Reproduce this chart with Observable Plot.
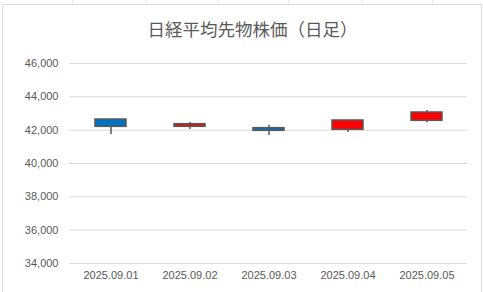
<!DOCTYPE html>
<html>
<head>
<meta charset="utf-8">
<script src="https://cdn.jsdelivr.net/npm/d3@7"></script>
<script src="https://cdn.jsdelivr.net/npm/@observablehq/plot@0.6"></script>
<style>
  html, body { margin: 0; padding: 0; background: #fff; }
  #wrap { position: relative; width: 483px; height: 292px; overflow: hidden; background: #fff; }
  #sheet { position: absolute; left: 0; top: 0; width: 483px; height: 292px; }
  #chartbox { position: absolute; left: 2px; top: 4px; width: 478px; height: 300px;
    border-left: 1px solid #d9d9d9; border-top: 1px solid #d9d9d9; border-right: 1px solid #d9d9d9; background: #fff; }
  #title { position: absolute; left: 0; top: 17px; width: 505px; text-align: center;
    font-family: "Noto Sans CJK JP", sans-serif; font-size: 17.5px; color: #595959; line-height: 24px; }
  #plot { position: absolute; left: 0; top: 0; }
</style>
</head>
<body>
<div id="wrap">
  <svg id="sheet" width="483" height="292"></svg>
  <div id="chartbox"></div>
  <div id="plot"></div>
  <div id="title">日経平均先物株価（日足）</div>
</div>
<script>
// Data
const dates = ["2025.09.01", "2025.09.02", "2025.09.03", "2025.09.04", "2025.09.05"];
const open  = [42640, 42200, 42120, 42020, 42560];
const high  = [42640, 42460, 42300, 42580, 43180];
const low   = [41740, 42040, 41680, 41860, 42440];
const close = [42200, 42360, 41960, 42580, 43060];
const yTicks = [34000, 36000, 38000, 40000, 42000, 44000, 46000];

const rows = dates.map((d, i) => ({date: d, open: open[i], high: high[i], low: low[i], close: close[i]}));

// spreadsheet cell lines behind the chart
const sheet = document.getElementById("sheet");
const ns = "http://www.w3.org/2000/svg";
[73, 146, 218, 289, 362, 433].forEach(x => {
  const l = document.createElementNS(ns, "line");
  l.setAttribute("x1", x); l.setAttribute("x2", x); l.setAttribute("y1", 0); l.setAttribute("y2", 4);
  l.setAttribute("stroke", "#e0e0e0"); sheet.appendChild(l);
});

const fmt = d3.format(",");
const plot = Plot.plot({
  width: 483,
  height: 292,
  marginTop: 63,
  marginBottom: 29,
  marginLeft: 69,
  marginRight: 16,
  style: {background: "transparent", fontFamily: "Liberation Sans, sans-serif", fontSize: "11px", color: "#595959"},
  x: {type: "band", domain: dates, padding: 0, label: null, tickSize: 0, tickPadding: 8},
  y: {domain: [34000, 46000], ticks: yTicks, tickFormat: fmt, label: null, tickSize: 0, tickPadding: 11},
  marks: [
    Plot.ruleY(yTicks, {stroke: "#d9d9d9", strokeWidth: 1}),
    Plot.ruleX(rows, {x: "date", y1: "low", y2: "high", stroke: "#404040", strokeWidth: 1.3}),
    Plot.barY(rows, {
      x: "date", y1: "open", y2: "close",
      fill: d => d.close >= d.open ? "#FF0000" : "#0070C0",
      stroke: "#595959", strokeWidth: 1.5,
      insetLeft: 24, insetRight: 24
    })
  ]
});
document.getElementById("plot").appendChild(plot);
</script>
</body>
</html>
